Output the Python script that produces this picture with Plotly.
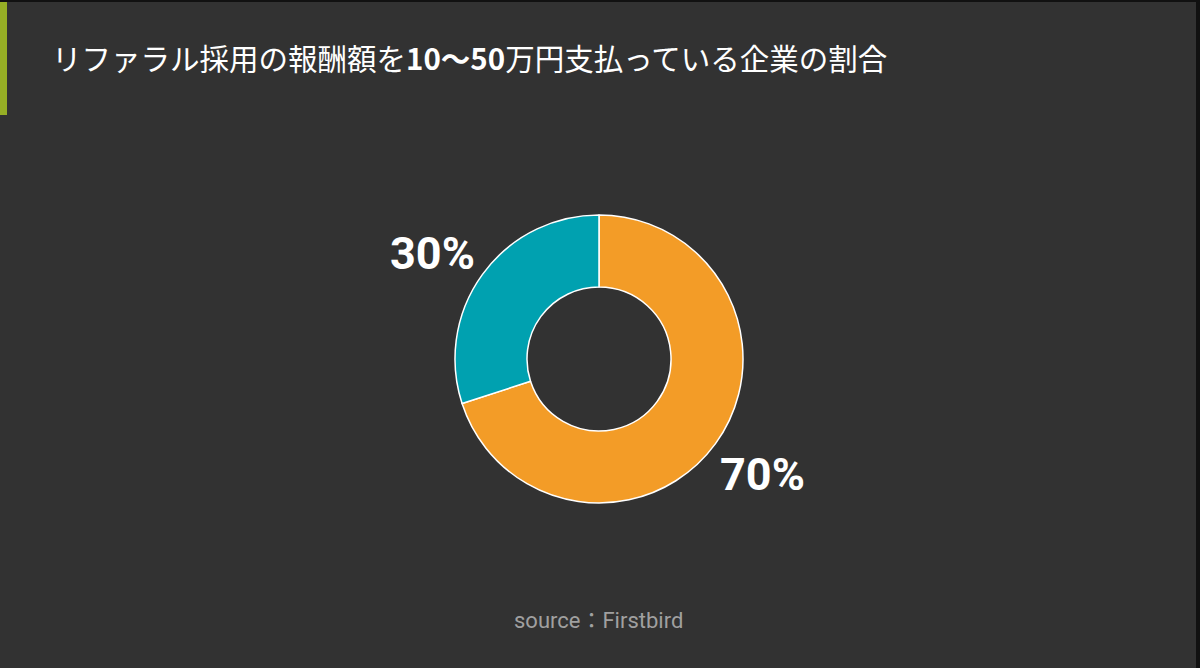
import math
import plotly.graph_objects as go

# ---- data ----
categories = ["支払っている", "支払っていない"]
values = [70, 30]
label_texts = ["70%", "30%"]
colors = ["#F39C27", "#00A1B0"]

title_text = "リファラル採用の報酬額を<b>10〜50</b>万円支払っている企業の割合"
source_text = "source：Firstbird"

# ---- layout / style ----
W, H = 1200, 668
cx, cy, r = 599, 359, 144  # pixel geometry of the donut
label_r = 200
label_nudge_px = [(2, -2), (-5, 12)]  # small visual nudges for the outside labels

fig = go.Figure()
fig.add_trace(go.Pie(
    labels=categories,
    values=values,
    hole=0.5,
    sort=False,
    direction="clockwise",
    rotation=0,
    marker=dict(colors=colors, line=dict(color="#FFFFFF", width=1.5)),
    textinfo="none",
    hoverinfo="none",
    showlegend=False,
    domain=dict(x=[(cx - r) / W, (cx + r) / W],
                y=[1 - (cy + r) / H, 1 - (cy - r) / H]),
))

# percentage labels positioned outside each slice at its mid-angle
total = sum(values)
cum = 0
annotations = []
for v, t, (nx, ny) in zip(values, label_texts, label_nudge_px):
    mid = (cum + v / 2) / total
    cum += v
    th = 2 * math.pi * mid
    px = cx + label_r * math.sin(th) + nx
    py = cy - label_r * math.cos(th) + ny
    annotations.append(dict(
        x=px / W, y=1 - py / H, xref="paper", yref="paper",
        text=f"<b>{t}</b>", showarrow=False,
        font=dict(family="Roboto", size=45, color="#FFFFFF"),
        xanchor="center", yanchor="middle",
    ))

annotations.append(dict(
    x=50 / W, y=1 - 57 / H, xref="paper", yref="paper",
    text=title_text, showarrow=False,
    font=dict(family="Noto Sans CJK JP", size=29.5, color="#FFFFFF"),
    xanchor="left", yanchor="middle",
))
annotations.append(dict(
    x=598 / W, y=1 - 620 / H, xref="paper", yref="paper",
    text=source_text, showarrow=False,
    font=dict(family="Roboto, Noto Sans CJK JP", size=22, color="#A0A0A0"),
    xanchor="center", yanchor="middle",
))

shapes = [
    # green accent bar
    dict(type="rect", xref="paper", yref="paper", x0=0, x1=7 / W,
         y0=1 - 115 / H, y1=1, fillcolor="#96AF25", line=dict(width=0), layer="above"),
    # dark frame edges
    dict(type="rect", xref="paper", yref="paper", x0=0, x1=1,
         y0=1 - 2 / H, y1=1, fillcolor="#111111", line=dict(width=0), layer="above"),
    dict(type="rect", xref="paper", yref="paper", x0=1 - 4 / W, x1=1,
         y0=0, y1=1, fillcolor="#111111", line=dict(width=0), layer="above"),
]

fig.update_layout(
    width=W, height=H,
    margin=dict(l=0, r=0, t=0, b=0),
    paper_bgcolor="#323232",
    plot_bgcolor="#323232",
    annotations=annotations,
    shapes=shapes,
)

fig.write_html("out.html", config={"displayModeBar": False})
